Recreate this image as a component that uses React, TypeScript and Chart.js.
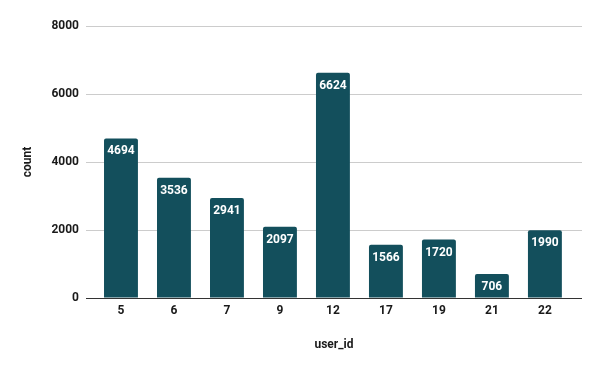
import React, { useEffect, useRef } from "react";
import { Chart, registerables } from "chart.js";

Chart.register(...registerables);

const categories: string[] = ["5", "6", "7", "9", "12", "17", "19", "21", "22"];
const counts: number[] = [4694, 3536, 2941, 2097, 6624, 1566, 1720, 706, 1990];
const yTicks: number[] = [0, 2000, 4000, 6000, 8000];

const BAR_COLOR = "#134f5c";

const valueLabelPlugin = {
  id: "valueLabels",
  afterDatasetsDraw(chart: any) {
    const ctx = chart.ctx;
    const meta = chart.getDatasetMeta(0);
    const area = chart.chartArea;
    const y0 = Math.round(chart.scales.y.getPixelForValue(0)) + 0.5;
    ctx.save();
    ctx.strokeStyle = "#333333";
    ctx.lineWidth = 1;
    ctx.beginPath();
    ctx.moveTo(area.left, y0);
    ctx.lineTo(area.right, y0);
    ctx.stroke();
    ctx.fillStyle = "#ffffff";
    ctx.font = "bold 12px Roboto";
    ctx.textAlign = "center";
    ctx.textBaseline = "middle";
    meta.data.forEach((bar: any, i: number) => {
      ctx.fillText(String(counts[i]), bar.x, bar.y + 13);
    });
    ctx.restore();
  },
};

export default function App() {
  const ref = useRef<HTMLCanvasElement | null>(null);

  useEffect(() => {
    document.body.style.margin = "0";
    Chart.defaults.font.family = "Roboto";
    const canvas = ref.current;
    if (!canvas) return;
    const chart = new Chart(canvas, {
      type: "bar",
      data: {
        datasets: [
          {
            label: "count",
            data: counts.map((v, i) => ({ x: i, y: v })),
            backgroundColor: BAR_COLOR,
            borderRadius: 2,
            borderSkipped: "bottom",
            barPercentage: 0.64,
            categoryPercentage: 1,
          },
        ],
      },
      options: {
        responsive: false,
        animation: false,
        layout: { padding: { top: 26, right: 18, left: 0, bottom: 0 } },
        plugins: {
          legend: { display: false },
          tooltip: { enabled: false },
        },
        scales: {
          x: {
            type: "linear",
            min: -0.66,
            max: 8.7,
            offset: false,
            grid: { display: false, drawTicks: false, offset: false },
            border: { display: false },
            afterFit: (s: any) => {
              s.height = 73;
            },
            afterBuildTicks: (s: any) => {
              s.ticks = categories.map((_, i) => ({ value: i }));
            },
            ticks: {
              autoSkip: false,
              maxRotation: 0,
              padding: 6,
              color: "#1a1a1a",
              font: { size: 12, weight: "bold" },
              callback: (v: any) => {
                const n = Math.round(Number(v));
                return categories[n] !== undefined ? categories[n] : "";
              },
            },
            title: {
              display: true,
              text: "user_id",
              color: "#1a1a1a",
              font: { size: 12, weight: "bold" },
              padding: { top: 4, bottom: 19 },
            },
          },
          y: {
            min: 0,
            max: 8000,
            afterFit: (s: any) => {
              s.width = 86;
            },
            afterBuildTicks: (s: any) => {
              s.ticks = yTicks.map((v) => ({ value: v }));
            },
            grid: {
              drawTicks: false,
              color: (c: any) => (c.tick && c.tick.value === 0 ? "rgba(0,0,0,0)" : "#cccccc"),
            },
            border: { display: false },
            ticks: {
              padding: 7,
              color: "#1a1a1a",
              font: { size: 12, weight: "bold" },
              callback: (v: any) => String(v),
            },
            title: {
              display: true,
              text: "count",
              color: "#1a1a1a",
              font: { size: 12, weight: "bold" },
              padding: { top: 21, bottom: 4 },
            },
          },
        },
      },
      plugins: [valueLabelPlugin],
    } as any);
    return () => chart.destroy();
  }, []);

  return (
    <div style={{ width: 600, height: 371 }}>
      <canvas ref={ref} width={600} height={371} style={{ display: "block" }} />
    </div>
  );
}
